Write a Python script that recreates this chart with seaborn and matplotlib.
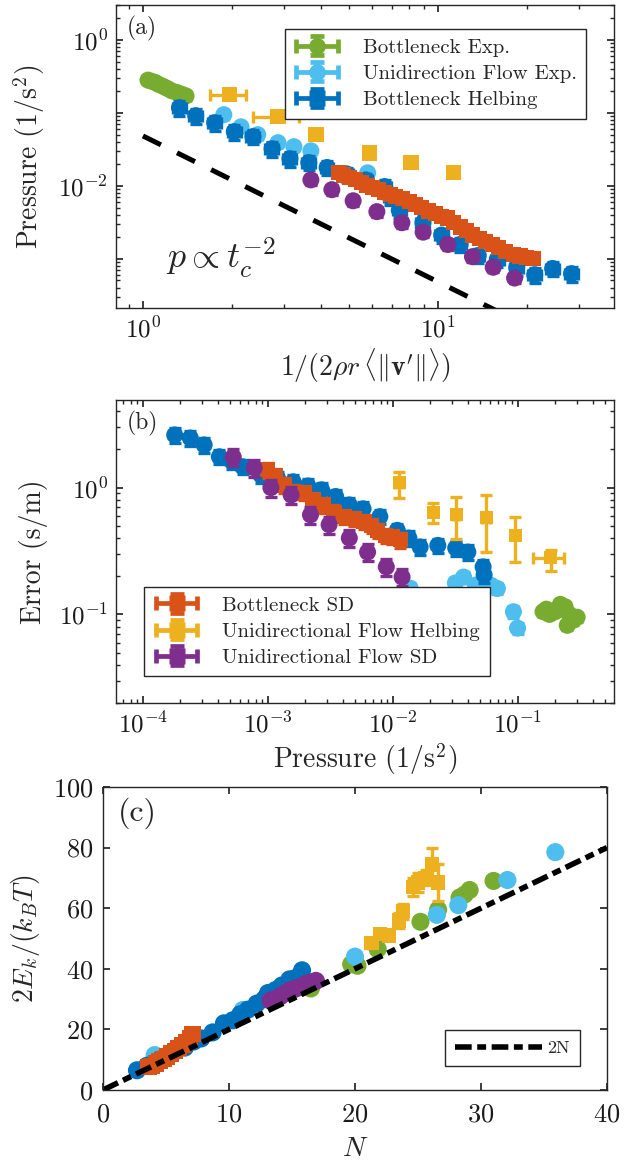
import numpy as np
import pandas as pd
import seaborn as sns
import matplotlib
matplotlib.use("Agg")
import matplotlib.pyplot as plt
from matplotlib.container import ErrorbarContainer
from matplotlib.legend_handler import HandlerErrorbar

# ---------------- data : panel (a) ----------------
green_a_x = [1.04, 1.07, 1.10, 1.13, 1.17, 1.21, 1.25, 1.30, 1.35, 1.40]
green_a_y = [0.28, 0.27, 0.26, 0.245, 0.23, 0.215, 0.20, 0.19, 0.18, 0.17]

lblue_a_x = [1.88, 2.15, 2.45, 2.87, 3.25, 3.71, 5.78]
lblue_a_y = [0.094, 0.064, 0.050, 0.0388, 0.0342, 0.030, 0.015]

blue_a_x = [1.33, 1.51, 1.75, 2.04, 2.36, 2.74, 3.15, 3.65, 4.21, 4.9, 5.7, 6.6, 6.9, 7.4,
            8.9, 10.3, 11.9, 13.7, 15.9, 18.5, 21.3, 24.5, 28.4]
blue_a_y = [0.117, 0.091, 0.073, 0.055, 0.047, 0.032, 0.0234, 0.0207, 0.0177, 0.0145, 0.012,
            0.0097, 0.0070, 0.0046, 0.0031, 0.0021, 0.00156, 0.0011, 0.00097, 0.00075, 0.0006,
            0.00073, 0.00062]

orange_a_x = [4.6, 4.8, 5.0, 5.25, 5.5, 5.75, 6.0, 6.3, 6.6, 6.9, 7.2, 7.6, 8.0, 8.4, 8.8, 9.3,
              9.8, 10.3, 10.8, 11.3, 11.9, 12.5, 13.1, 13.8, 14.5, 15.3, 16.1, 17.0, 18.0, 19.0,
              20.0, 21.0]
orange_a_y = [0.0150, 0.0140, 0.0130, 0.0120, 0.0110, 0.0101, 0.0095, 0.0088, 0.0081, 0.0076,
              0.0071, 0.0066, 0.0060, 0.0055, 0.0050, 0.0045, 0.0041, 0.0038, 0.0036, 0.0031,
              0.0027, 0.0024, 0.0021, 0.0019, 0.0017, 0.00155, 0.00140, 0.00125, 0.00115,
              0.00108, 0.00104, 0.00100]

yellow_a_x = [1.96, 2.87, 3.86, 5.85, 8.1, 11.3]
yellow_a_y = [0.176, 0.088, 0.050, 0.028, 0.0207, 0.0151]
yellow_a_xerr = [0.27, 0.50, 0.15, 0.12, 0.20, 0.25]

purple_a_x = [3.71, 4.37, 5.16, 6.21, 7.55, 8.91, 10.8, 13.1, 15.4, 18.2]
purple_a_y = [0.012, 0.0088, 0.0062, 0.0044, 0.0031, 0.0023, 0.00156, 0.00106, 0.00076, 0.00054]

guide_a_x = [1.0, 40.0]
guide_a_y = [0.048, 0.00003]

# ---------------- data : panel (b) ----------------
green_b_x = [0.16, 0.17, 0.18, 0.20, 0.22, 0.24, 0.25, 0.26, 0.28, 0.30]
green_b_y = [0.105, 0.11, 0.10, 0.105, 0.12, 0.115, 0.082, 0.10, 0.09, 0.095]

lblue_b_x = [0.0138, 0.0318, 0.037, 0.0459, 0.061, 0.069, 0.0927, 0.100]
lblue_b_y = [0.161, 0.177, 0.197, 0.170, 0.170, 0.160, 0.105, 0.078]

blue_b_x = [1.8e-4, 2.4e-4, 3.1e-4, 4.1e-4, 5.2e-4, 6.3e-4, 8.8e-4, 1.2e-3, 1.6e-3, 2.1e-3,
            2.7e-3, 3.5e-3, 4.5e-3, 5.8e-3, 7.9e-3, 1.09e-2, 1.35e-2, 1.66e-2, 2.3e-2, 3.2e-2,
            4.0e-2, 5.3e-2, 5.4e-2]
blue_b_y = [2.6, 2.46, 2.17, 1.75, 1.6, 1.46, 1.26, 1.18, 1.11, 1.03, 0.96, 0.85, 0.73, 0.68,
            0.59, 0.46, 0.40, 0.34, 0.35, 0.334, 0.31, 0.237, 0.205]

orange_b_x = [1.0e-3, 1.15e-3, 1.35e-3, 1.6e-3, 1.95e-3, 2.3e-3, 2.8e-3, 3.4e-3, 4.1e-3,
              4.9e-3, 5.9e-3, 6.8e-3, 7.6e-3, 8.8e-3, 9.9e-3, 1.15e-2]
orange_b_y = [1.38, 1.25, 1.05, 0.93, 0.91, 0.80, 0.73, 0.64, 0.59, 0.57, 0.54, 0.50, 0.46,
              0.42, 0.41, 0.387]

yellow_b_x = [0.0113, 0.0211, 0.0323, 0.056, 0.096, 0.184]
yellow_b_y = [1.09, 0.64, 0.61, 0.58, 0.42, 0.28]
yellow_b_ylo = [0.26, 0.11, 0.22, 0.27, 0.16, 0.06]
yellow_b_yhi = [0.24, 0.12, 0.23, 0.29, 0.17, 0.04]
yellow_b_xerr = [0.0008, 0.0012, 0.002, 0.004, 0.007, 0.05]

purple_b_x = [5.3e-4, 7.8e-4, 1.06e-3, 1.54e-3, 2.2e-3, 3.1e-3, 4.5e-3, 6.3e-3, 8.9e-3, 1.19e-2]
purple_b_y = [1.74, 1.43, 1.0, 0.875, 0.61, 0.51, 0.40, 0.31, 0.237, 0.197]

# ---------------- data : panel (c) ----------------
blue_c_x = [2.7, 3.5, 4.5, 5.5, 6.5, 7.2, 7.8, 8.7, 9.6, 10.3, 10.9, 11.5, 12.2, 12.8, 13.1,
            13.7, 14.2, 14.8, 15.3, 15.8]
blue_c_y = [6.5, 8, 10, 12, 14, 16, 17, 19, 22, 23, 25, 26.5, 28.5, 30, 32, 33, 34.5, 36.5,
            37, 39.5]

orange_c_x = [3.6, 3.9, 4.2, 4.5, 4.8, 5.1, 5.4, 5.7, 6.0, 6.3, 6.6, 6.9, 7.1]
orange_c_y = [7.5, 8, 8.8, 9.5, 10.3, 11, 12, 12.8, 13.8, 14.8, 15.8, 17, 18.5]

purple_c_x = [13.3, 13.7, 14.1, 14.5, 14.9, 15.3, 15.7, 16.1, 16.5, 16.9]
purple_c_y = [29.5, 30, 31, 32, 33, 33.5, 34, 35, 35.5, 36]

green_c_x = [16.5, 19.7, 20.2, 21.8, 25.2, 26.6, 28.3, 28.7, 29.1, 31.0]
green_c_y = [33.5, 41.5, 41.0, 46.5, 55.5, 59.5, 63.5, 64.5, 66.0, 69.0]

lblue_c_x = [4.1, 11.1, 20.0, 26.5, 28.2, 32.1, 35.9]
lblue_c_y = [11.5, 26.4, 44.0, 57.8, 61.0, 69.3, 78.5]

yellow_c_x = [21.3, 22.0, 22.7, 23.5, 23.8, 24.6, 25.0, 25.6, 26.1, 26.6]
yellow_c_y = [48.5, 51.5, 51.0, 56.0, 59.0, 67.0, 68.5, 70.0, 74.5, 68.5]
yellow_c_yerr = [1.5, 1.5, 1.5, 2.5, 2.5, 3.0, 3.0, 2.5, 5.5, 6.0]
yellow_c_xerr = [0.3, 0.3, 0.3, 0.3, 0.3, 0.4, 0.4, 0.4, 0.3, 0.3]

line_c_x = [0, 40]
line_c_y = [0, 80]

# relative error sizes (x, y) for panels (a) and (b)
REL = {"green": (0.03, 0.08), "lblue": (0.03, 0.10), "blue": (0.05, 0.22),
       "orange": (0.03, 0.10), "yellow": (None, 0.12), "purple": (0.03, 0.15)}
REL_B = {"green": (0.05, 0.08), "lblue": (0.06, 0.10), "blue": (0.06, 0.13),
         "orange": (0.06, 0.13), "purple": (0.06, 0.15)}

C = {"green": "#77AC30", "lblue": "#4DBEEE", "blue": "#0072BD",
     "orange": "#D95319", "yellow": "#EDB120", "purple": "#7E2F8E"}

sns.set_theme(style="ticks")
plt.rcParams.update({
    "font.family": ["cmr10"],
    "mathtext.fontset": "cm",
    "axes.formatter.use_mathtext": True,
    "axes.edgecolor": "#262626",
    "axes.linewidth": 1.0,
    "xtick.direction": "in", "ytick.direction": "in",
    "xtick.top": True, "ytick.right": True,
    "xtick.major.size": 5, "ytick.major.size": 5,
    "xtick.minor.size": 3, "ytick.minor.size": 3,
    "xtick.major.pad": 6, "ytick.major.pad": 6,
    "xtick.color": "#262626", "ytick.color": "#262626",
    "xtick.labelcolor": "#1a1a1a", "ytick.labelcolor": "#1a1a1a",
    "xtick.minor.visible": False, "ytick.minor.visible": False,
})

TICK_FS = 18
LABEL_FS = 20
LEG_FS = 15

fig = plt.figure(figsize=(6.31, 11.63), dpi=100)
ax_a = fig.add_axes([0.1838, 0.7352, 0.789, 0.2605])
ax_b = fig.add_axes([0.1838, 0.3955, 0.789, 0.2605])
ax_c = fig.add_axes([0.1632, 0.0628, 0.7987, 0.2605])

MS = 150
ELW = 2.4
CAP = 4.5


def draw(ax, x, y, key, marker, xerr=None, yerr=None, z=2, s=MS):
    x = np.asarray(x, float)
    y = np.asarray(y, float)
    ax.errorbar(x, y, xerr=xerr, yerr=yerr, fmt="none", ecolor=C[key],
                elinewidth=ELW, capsize=CAP, capthick=ELW, zorder=z)
    sns.scatterplot(x=x, y=y, ax=ax, color=C[key], marker=marker, s=s,
                    edgecolor="none", linewidth=0, zorder=z + 0.05, legend=False)


def rel_err(vals, r):
    return np.asarray(vals, float) * r


def proxy(ax, key, marker, label):
    return ax.errorbar([np.nan], [np.nan], xerr=[1.0], yerr=[1.0], fmt=marker,
                       color=C[key], ecolor=C[key], ms=12, mec="none",
                       elinewidth=ELW + 1.0, capsize=5, capthick=ELW + 1.0, label=label)


def log_minor(ax):
    for axis in (ax.xaxis, ax.yaxis):
        axis.set_minor_locator(matplotlib.ticker.LogLocator(base=10, subs=np.arange(2, 10),
                                                            numticks=50))
        axis.set_minor_formatter(matplotlib.ticker.NullFormatter())


HMAP = {ErrorbarContainer: HandlerErrorbar(xerr_size=1.0, yerr_size=0.45)}

# ---------------- panel (a) ----------------
ax = ax_a
ax.set_xscale("log")
ax.set_yscale("log")
order_a = [
    ("green", green_a_x, green_a_y, "o"),
    ("lblue", lblue_a_x, lblue_a_y, "o"),
    ("blue", blue_a_x, blue_a_y, "o"),
    ("orange", orange_a_x, orange_a_y, "s"),
    ("yellow", yellow_a_x, yellow_a_y, "s"),
    ("purple", purple_a_x, purple_a_y, "o"),
]
for i, (key, xs, ys, mk) in enumerate(order_a):
    rx, ry = REL[key]
    xe = yellow_a_xerr if key == "yellow" else rel_err(xs, rx)
    draw(ax, xs, ys, key, mk, xerr=xe, yerr=rel_err(ys, ry), z=2 + i,
         s=120 if mk == "s" else MS)
ax.plot(guide_a_x, guide_a_y, color="black", lw=3.6, dashes=(4, 3.6), zorder=10)
ax.set_xlim(0.81, 39.5)
ax.set_ylim(2.1e-4, 3.0)
ax.set_yticks([1e-3, 1e-2, 1e-1, 1])
ax.set_yticklabels(["", r"$10^{-2}$", "", r"$10^{0}$"])
ax.set_xticks([1, 10])
ax.set_xticklabels([r"$10^{0}$", r"$10^{1}$"])
log_minor(ax)
ax.tick_params(which="both", labelsize=TICK_FS)
ax.set_xlabel(r"$1/(2\rho r\,\langle\Vert\mathbf{v}'\Vert\rangle)$", fontsize=LABEL_FS, labelpad=3)
ax.set_ylabel(r"Pressure (1/s$^2$)", fontsize=LABEL_FS, labelpad=8)
ax.text(0.022, 0.965, "(a)", transform=ax.transAxes, fontsize=17, va="top", ha="left")
ax.text(0.10, 0.165, r"$p \propto t_c^{-2}$", transform=ax.transAxes, fontsize=26,
        va="center", ha="left")
hs = [proxy(ax, "green", "o", "Bottleneck Exp."),
      proxy(ax, "lblue", "o", "Unidirection Flow Exp."),
      proxy(ax, "blue", "s", "Bottleneck Helbing")]
leg = ax.legend(handles=hs, loc="upper right", bbox_to_anchor=(0.966, 0.955),
                fontsize=LEG_FS, frameon=True, fancybox=False, framealpha=1,
                edgecolor="#262626", handlelength=2.2, handletextpad=1.1,
                labelspacing=0.36, borderpad=0.45, handler_map=HMAP)
leg.get_frame().set_linewidth(1.0)
leg.set_zorder(20)

# ---------------- panel (b) ----------------
ax = ax_b
ax.set_xscale("log")
ax.set_yscale("log")
order_b = [
    ("green", green_b_x, green_b_y, "o"),
    ("lblue", lblue_b_x, lblue_b_y, "o"),
    ("blue", blue_b_x, blue_b_y, "o"),
    ("orange", orange_b_x, orange_b_y, "s"),
    ("yellow", yellow_b_x, yellow_b_y, "s"),
    ("purple", purple_b_x, purple_b_y, "o"),
]
for i, (key, xs, ys, mk) in enumerate(order_b):
    if key == "yellow":
        draw(ax, xs, ys, key, mk, xerr=yellow_b_xerr, yerr=[yellow_b_ylo, yellow_b_yhi],
             z=2 + i, s=90)
    else:
        rx, ry = REL_B[key]
        draw(ax, xs, ys, key, mk, xerr=rel_err(xs, rx), yerr=rel_err(ys, ry), z=2 + i,
             s=120 if mk == "s" else MS)
ax.set_xlim(6.1e-5, 0.59)
ax.set_ylim(0.02, 4.9)
ax.set_xticks([1e-4, 1e-3, 1e-2, 1e-1])
ax.set_xticklabels([r"$10^{-4}$", r"$10^{-3}$", r"$10^{-2}$", r"$10^{-1}$"])
ax.set_yticks([1e-1, 1])
ax.set_yticklabels([r"$10^{-1}$", r"$10^{0}$"])
log_minor(ax)
ax.tick_params(which="both", labelsize=TICK_FS)
ax.set_xlabel(r"Pressure (1/s$^2$)", fontsize=LABEL_FS, labelpad=3)
ax.set_ylabel("Error (s/m)", fontsize=LABEL_FS, labelpad=8)
ax.text(0.022, 0.965, "(b)", transform=ax.transAxes, fontsize=17, va="top", ha="left")
hs = [proxy(ax, "orange", "s", "Bottleneck SD"),
      proxy(ax, "yellow", "s", "Unidirectional Flow Helbing"),
      proxy(ax, "purple", "s", "Unidirectional Flow SD")]
leg = ax.legend(handles=hs, loc="lower left", bbox_to_anchor=(0.036, 0.054),
                fontsize=LEG_FS, frameon=True, fancybox=False, framealpha=1,
                edgecolor="#262626", handlelength=2.2, handletextpad=1.1,
                labelspacing=0.36, borderpad=0.45, handler_map=HMAP)
leg.get_frame().set_linewidth(1.0)
leg.set_zorder(20)

# ---------------- panel (c) ----------------
ax = ax_c
order_c = [
    ("green", green_c_x, green_c_y, "o"),
    ("lblue", lblue_c_x, lblue_c_y, "o"),
    ("blue", blue_c_x, blue_c_y, "o"),
    ("orange", orange_c_x, orange_c_y, "s"),
    ("yellow", yellow_c_x, yellow_c_y, "s"),
    ("purple", purple_c_x, purple_c_y, "o"),
]
for i, (key, xs, ys, mk) in enumerate(order_c):
    if key == "yellow":
        draw(ax, xs, ys, key, mk, xerr=yellow_c_xerr, yerr=yellow_c_yerr, z=2 + i, s=110)
    else:
        draw(ax, xs, ys, key, mk, xerr=None, yerr=None, z=2 + i,
             s=140 if mk == "s" else 170)
ax.plot(line_c_x, line_c_y, color="black", lw=4, dashes=(3.0, 1.0, 1.6, 1.0),
        zorder=10, label="2N")
ax.set_xlim(0, 40)
ax.set_ylim(0, 100)
ax.set_xticks([0, 10, 20, 30, 40])
ax.set_yticks([0, 20, 40, 60, 80, 100])
ax.tick_params(axis="x", labelsize=TICK_FS + 1, pad=9)
ax.tick_params(axis="y", labelsize=TICK_FS + 1, pad=7)
ax.set_xlabel(r"$N$", fontsize=LABEL_FS, labelpad=7)
ax.set_ylabel(r"$2E_k/(k_BT)$", fontsize=LABEL_FS, labelpad=8)
ax.text(0.03, 0.965, "(c)", transform=ax.transAxes, fontsize=23, va="top", ha="left")
leg = ax.legend(loc="lower right", bbox_to_anchor=(0.964, 0.05), fontsize=13,
                frameon=True, fancybox=False, framealpha=1, edgecolor="#262626",
                handlelength=4.8, handletextpad=0.3, borderpad=0.55)
leg.get_frame().set_linewidth(1.0)

for a in (ax_a, ax_b, ax_c):
    for sp in a.spines.values():
        sp.set_zorder(30)

fig.savefig("out.png", dpi=100)
